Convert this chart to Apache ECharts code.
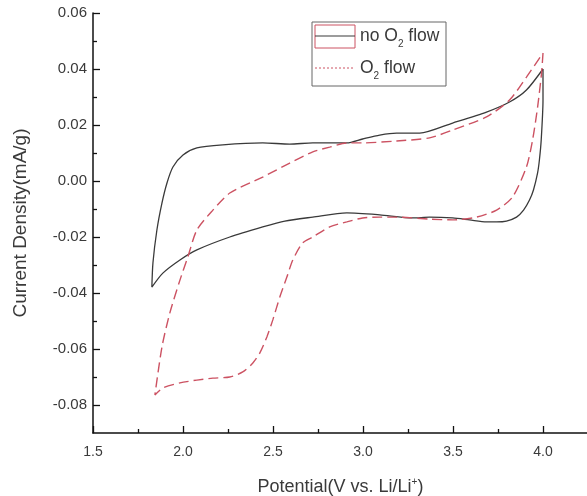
<!DOCTYPE html>
<html>
<head>
<meta charset="utf-8">
<script src="https://cdn.jsdelivr.net/npm/echarts@6/dist/echarts.min.js"></script>
<style>html,body{margin:0;padding:0;background:#fff}#c{width:587px;height:496px}</style>
</head>
<body>
<div id="c"></div>
<script>
// ---- data ----
const xMajorTicks = [1.5, 2.0, 2.5, 3.0, 3.5, 4.0];
const xMinorTicks = [1.75, 2.25, 2.75, 3.25, 3.75];
const yMajorTicks = [-0.08, -0.06, -0.04, -0.02, 0.00, 0.02, 0.04, 0.06];
const yMinorTicks = [-0.07, -0.05, -0.03, -0.01, 0.01, 0.03, 0.05];

const seriesNames = ['no O2 flow', 'O2 flow'];

const noO2X = [4.0,4.0,3.99,3.98,3.97,3.947,3.925,3.892,3.853,3.797,3.742,3.686,3.592,3.498,3.370,3.276,3.093,2.910,2.721,2.566,2.443,2.260,2.077,1.983,1.888,1.827,1.833,1.855,1.883,1.911,1.944,2.0,2.077,2.221,2.443,2.593,2.721,2.910,2.998,3.093,3.187,3.315,3.498,3.686,3.814,3.908,4.0];
const noO2Y = [0.040,0.029,0.0146,0.0075,0.0029,-0.0032,-0.0068,-0.0104,-0.0129,-0.0143,-0.0146,-0.0146,-0.0139,-0.0132,-0.0129,-0.0132,-0.0121,-0.0114,-0.0129,-0.0143,-0.0164,-0.0200,-0.0246,-0.0282,-0.0329,-0.0379,-0.0293,-0.0175,-0.0079,-0.0007,0.0050,0.0093,0.0118,0.0129,0.0136,0.0132,0.0136,0.0136,0.0150,0.0164,0.0171,0.0171,0.0207,0.0246,0.0282,0.0325,0.040];

const o2X = [4.0,3.992,3.970,3.942,3.908,3.831,3.742,3.631,3.498,3.370,3.187,3.093,2.998,2.910,2.815,2.721,2.665,2.610,2.577,2.538,2.499,2.466,2.427,2.388,2.332,2.260,2.166,2.077,1.983,1.888,1.844,1.883,1.927,1.983,2.027,2.077,2.166,2.260,2.443,2.593,2.721,2.815,2.910,2.998,3.187,3.370,3.498,3.686,3.814,3.908,4.0];
const o2Y = [0.0457,0.0386,0.0264,0.0146,0.0050,-0.0057,-0.0104,-0.0129,-0.0139,-0.0136,-0.0129,-0.0129,-0.0132,-0.0146,-0.0164,-0.0200,-0.0221,-0.0282,-0.0343,-0.0414,-0.0496,-0.0557,-0.0614,-0.0650,-0.0682,-0.0700,-0.0704,-0.0711,-0.0721,-0.0739,-0.0764,-0.0593,-0.0471,-0.0354,-0.0271,-0.0175,-0.0104,-0.0043,0.0014,0.0064,0.0104,0.0121,0.0136,0.0136,0.0143,0.0154,0.0182,0.0229,0.0289,0.0371,0.0457];

// ---- build ----
const zip = (xs, ys) => xs.map((x, i) => [x, ys[i]]);
const FONT = '"Liberation Sans", Arial, sans-serif';
const TXT = '#3a3a3a';
const RED = '#cc5262';
const BLK = '#3a3a3a';
const X_MIN = 1.5, X_MAX = 4.25, Y_MIN = -0.09, Y_MAX = 0.06;

const chart = echarts.init(document.getElementById('c'), null, {renderer: 'canvas'});

const baseX = {
  type: 'value', min: X_MIN, max: X_MAX, gridIndex: 0, position: 'bottom',
  splitLine: {show: false}
};
const baseY = {
  type: 'value', min: Y_MIN, max: Y_MAX, gridIndex: 0, position: 'left',
  splitLine: {show: false}
};

const option = {
  animation: false,
  backgroundColor: '#fff',
  textStyle: {fontFamily: FONT},
  grid: {left: 93, right: -1, top: 13, bottom: 63, containLabel: false, outerBoundsMode: 'none'},
  xAxis: [
    Object.assign({}, baseX, {
      name: '{a|Potential(V vs. Li/Li}{p|+}{a|)}',
      nameLocation: 'middle',
      nameGap: 44,
      nameTextStyle: {
        rich: {
          a: {fontSize: 18, lineHeight: 20, color: TXT, fontFamily: FONT},
          p: {fontSize: 10, lineHeight: 10, verticalAlign: 'top', color: TXT, fontFamily: FONT}
        }
      },
      axisLine: {show: true, onZero: false, lineStyle: {color: '#111', width: 1.5}},
      axisTick: {show: true, inside: true, length: 7, lineStyle: {color: '#111', width: 1.3}, customValues: xMajorTicks},
      axisLabel: {show: true, margin: 12, fontSize: 14, color: TXT, fontFamily: FONT,
        customValues: xMajorTicks, formatter: v => v.toFixed(1)}
    }),
    Object.assign({}, baseX, {
      axisLine: {show: false, onZero: false},
      axisTick: {show: true, inside: true, length: 4, lineStyle: {color: '#111', width: 1.3}, customValues: xMinorTicks},
      axisLabel: {show: false}
    })
  ],
  yAxis: [
    Object.assign({}, baseY, {
      name: 'Current Density(mA/g)',
      nameLocation: 'middle',
      nameGap: 63,
      nameTextStyle: {fontSize: 19, color: TXT, fontFamily: FONT},
      axisLine: {show: true, onZero: false, lineStyle: {color: '#111', width: 1.5}},
      axisTick: {show: true, inside: true, length: 7, lineStyle: {color: '#111', width: 1.3}, customValues: yMajorTicks},
      axisLabel: {show: true, margin: 6, fontSize: 15, color: TXT, fontFamily: FONT,
        customValues: yMajorTicks, formatter: v => v.toFixed(2)}
    }),
    Object.assign({}, baseY, {
      axisLine: {show: false, onZero: false},
      axisTick: {show: true, inside: true, length: 4, lineStyle: {color: '#111', width: 1.3}, customValues: yMinorTicks},
      axisLabel: {show: false}
    })
  ],
  series: [
    {
      name: seriesNames[0], type: 'line', xAxisIndex: 0, yAxisIndex: 0,
      data: zip(noO2X, noO2Y), showSymbol: false, symbol: 'none', smooth: 0.25,
      lineStyle: {color: BLK, width: 1.3}
    },
    {
      name: seriesNames[1], type: 'line', xAxisIndex: 0, yAxisIndex: 0,
      data: zip(o2X, o2Y), showSymbol: false, symbol: 'none', smooth: 0.25,
      lineStyle: {color: RED, width: 1.4, type: [10, 5]}
    }
  ],
  graphic: [
    {type: 'rect', shape: {x: 312, y: 22, width: 134, height: 64},
      style: {fill: '#fff', stroke: '#666', lineWidth: 1}, z: 100},
    {type: 'rect', shape: {x: 315, y: 25, width: 40, height: 23},
      style: {fill: 'none', stroke: RED, lineWidth: 1}, z: 101},
    {type: 'line', shape: {x1: 315, y1: 36, x2: 355, y2: 36},
      style: {stroke: BLK, lineWidth: 1.2}, z: 101},
    {type: 'line', shape: {x1: 315, y1: 68, x2: 355, y2: 68},
      style: {stroke: RED, lineWidth: 1, lineDash: [2, 2]}, z: 101},
    {type: 'text', x: 360, y: 36, z: 101,
      style: {
        text: '{a|no O}{s|2}{a| flow}',
        verticalAlign: 'middle', align: 'left',
        rich: {
          a: {fontSize: 17.5, lineHeight: 26, fill: TXT, fontFamily: FONT},
          s: {fontSize: 10, lineHeight: 10, verticalAlign: 'bottom', fill: TXT, fontFamily: FONT}
        }
      }},
    {type: 'text', x: 360, y: 68, z: 101,
      style: {
        text: '{a|O}{s|2}{a| flow}',
        verticalAlign: 'middle', align: 'left',
        rich: {
          a: {fontSize: 17.5, lineHeight: 26, fill: TXT, fontFamily: FONT},
          s: {fontSize: 10, lineHeight: 10, verticalAlign: 'bottom', fill: TXT, fontFamily: FONT}
        }
      }}
  ]
};
chart.setOption(option);
</script>
</body>
</html>
